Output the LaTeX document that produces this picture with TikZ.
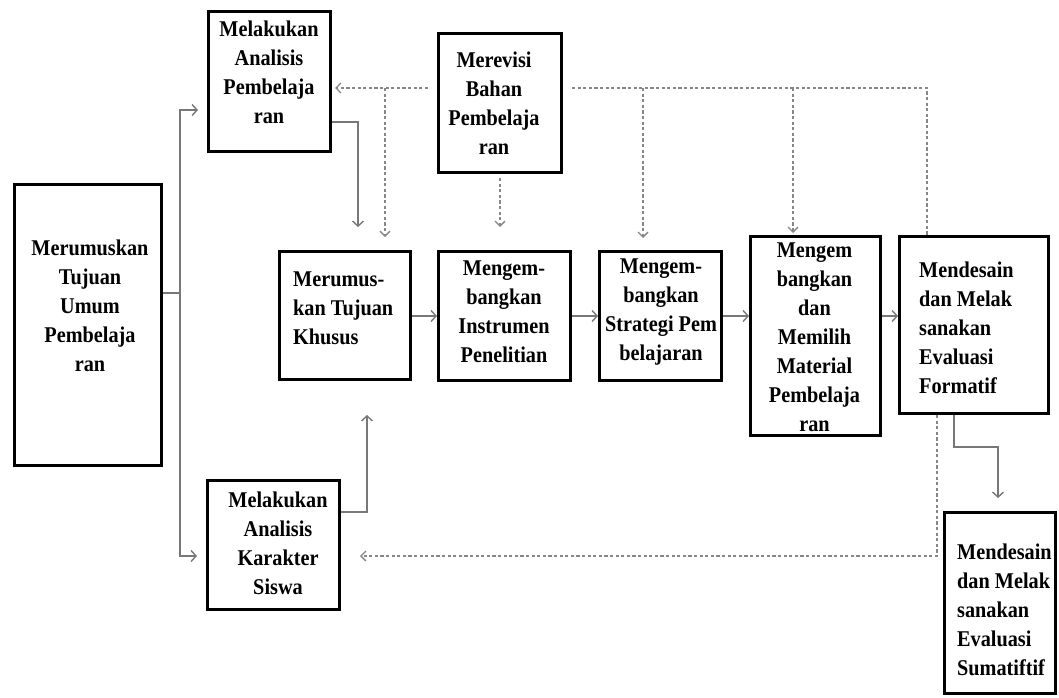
\documentclass[tikz,border=0pt]{standalone}
\usepackage{fontspec}
\setmainfont[FakeStretch=0.9]{Liberation Serif}
\usetikzlibrary{arrows.meta}
\definecolor{linkgray}{RGB}{120,120,120}
\definecolor{dashgray}{RGB}{135,135,135}
\begin{document}
\begin{tikzpicture}[x=1pt,y=-1pt,
  box/.style={draw=black, line width=2.6pt, fill=white, inner sep=0pt},
  txt/.style={font=\bfseries\fontsize{22.5}{29}\selectfont, align=center, inner sep=0pt},
  txtl/.style={txt, align=left, anchor=west},
  link/.style={draw=linkgray, line width=1.4pt},
  flow/.style={link, -{Straight Barb[length=5pt,width=11pt,line width=1.4pt]}},
  fb/.style={draw=dashgray, line width=1.4pt, dash pattern=on 3.2pt off 2.4pt},
  fbarrow/.style={fb, -{Straight Barb[length=5pt,width=10pt,line width=1.3pt]}}]
\useasboundingbox[fill=white] (0,0) rectangle (1059,697);

% boxes
\node[box, minimum width=147.4pt, minimum height=281.4pt] (umum) at (88,325) {};
\node[box, minimum width=122.4pt, minimum height=140.4pt] (anpem) at (269.5,81.5) {};
\node[box, minimum width=123.4pt, minimum height=139.4pt] (revisi) at (500,103) {};
\node[box, minimum width=131.4pt, minimum height=128.4pt] (khusus) at (345,315.5) {};
\node[box, minimum width=132.4pt, minimum height=129.4pt] (instr) at (504.5,316) {};
\node[box, minimum width=122.4pt, minimum height=129.4pt] (strategi) at (660.5,316) {};
\node[box, minimum width=130.4pt, minimum height=199.4pt] (material) at (815.5,336) {};
\node[box, minimum width=149.4pt, minimum height=177.4pt] (formatif) at (974,325) {};
\node[box, minimum width=111.4pt, minimum height=181.4pt] (sumatif) at (1000,603) {};
\node[box, minimum width=132.4pt, minimum height=129.4pt] (karakter) at (273.5,545) {};

% box labels
\node[txt] (tumum) at (90,306) {Merumuskan\\Tujuan\\Umum\\Pembelaja\\ran};
\node[txt] (tanpem) at (269,72) {Melakukan\\Analisis\\Pembelaja\\ran};
\node[txt] (trevisi) at (494,103) {Merevisi\\Bahan\\Pembelaja\\ran};
\node[txtl] (tkhusus) at (293,308) {Merumus-\\kan Tujuan\\Khusus};
\node[txt] (tinstr) at (504,312) {Mengem-\\bangkan\\Instrumen\\Penelitian};
\node[txt] (tstrategi) at (661,312) {Mengem-\\bangkan\\Strategi Pem\\belajaran};
\node[txt] (tmaterial) at (814.5,337) {Mengem\\bangkan\\dan\\Memilih\\Material\\Pembelaja\\ran};
\node[txtl] (tformatif) at (919,328) {Mendesain\\dan Melak\\sanakan\\Evaluasi\\Formatif};
\node[txtl] (tsumatif) at (957,610) {Mendesain\\dan Melak\\sanakan\\Evaluasi\\Sumatiftif};
\node[txt] (tkarakter) at (278,543) {Melakukan\\Analisis\\Karakter\\Siswa};

% solid flow
\coordinate (split) at (180,293);
\draw[link] (umum.east |- split) -- (split);
\draw[flow, shorten >=9pt] (split) |- (anpem.west |- 0,110);
\draw[flow, shorten >=9pt] (split) |- (karakter.west |- 0,556);
\draw[flow, shorten >=23pt] (anpem.east |- 0,122) -| (358,0 |- khusus.north);
\draw[flow, shorten >=34pt] (karakter.east |- 0,512) -| (367,0 |- khusus.south);
\draw[flow] (khusus.east |- 0,316) -- (instr.west |- 0,316);
\draw[flow] (instr.east |- 0,316) -- (strategi.west |- 0,316);
\draw[flow] (strategi.east |- 0,316) -- (material.west |- 0,316);
\draw[flow] (material.east |- 0,316) -- (formatif.west |- 0,316);
\draw[flow, shorten >=13pt] (formatif.south -| 954,0) -- (954,447) -| (998,0 |- sumatif.north);

% dashed revision feedback
\coordinate (br1) at (385,88);
\coordinate (br2) at (643,88);
\coordinate (br3) at (793,88);
\coordinate (corner) at (927,88);
\draw[fbarrow, shorten <=9pt, shorten >=3pt] (revisi.west |- 0,88) -- (anpem.east |- 0,88);
\draw[fbarrow, shorten >=13pt] (br1) -- (br1 |- khusus.north);
\draw[fbarrow, shorten <=4pt, shorten >=23pt] (revisi.south) -- (revisi.south |- instr.north);
\draw[fb, shorten <=9pt] (revisi.east |- corner) -- (corner) -- (corner |- formatif.north);
\draw[fbarrow, shorten >=12pt] (br2) -- (br2 |- strategi.north);
\draw[fbarrow, shorten >=2pt] (br3) -- (br3 |- material.north);
\draw[fbarrow, shorten >=19pt] (formatif.south -| 937,0) |- (karakter.east |- 0,556);
\end{tikzpicture}
\end{document}
